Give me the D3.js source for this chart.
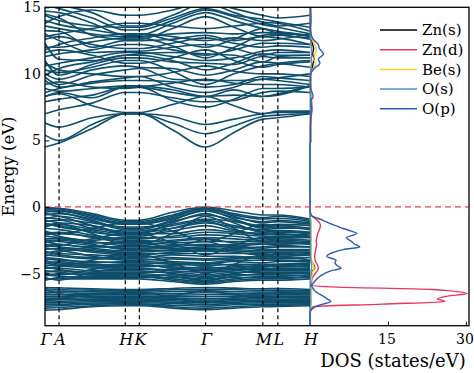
<!DOCTYPE html>
<html>
<head>
<meta charset="utf-8">
<script src="https://cdn.jsdelivr.net/npm/d3@7"></script>
<style>
  body { margin: 0; background: #fff; }
  svg { display: block; }
</style>
</head>
<body>
<div id="chart"></div>
<script>
// k-path nodes (cumulative k distance), the high symmetry points and their labels
var kNodes = [0, 0.35, 1.175, 2.0, 2.35, 3.175, 4.0, 4.71, 5.425, 5.8, 6.6];
var kTickPos = [0, 0.35, 2.0, 2.35, 4.0, 5.425, 5.8, 6.6];
var kTickLabels = ["Γ", "A", "H", "K", "Γ", "M", "L", "H"];
var energyTicks = [-5, 0, 5, 10, 15];
var dosTicks = [15, 30];

// band energies (eV) at kNodes:  Γ  A  (A-H)  H  K  (K-Γ)  Γ  (Γ-M)  M  L  H
var conductionBands = [
  [4.5, 4.8, 5.9, 7.0, 7.0, 5.8, 4.5, 5.6, 6.6, 6.7, 7.0],
  [5.4, 5.0, 6.2, 7.0, 7.0, 6.3, 5.5, 6.1, 6.8, 6.9, 7.0],
  [6.3, 6.0, 6.7, 7.0, 7.0, 6.8, 6.2, 6.6, 7.0, 7.1, 7.1],
  [7.0, 7.3, 7.8, 8.6, 8.6, 8.2, 7.9, 8.0, 8.6, 8.7, 8.6],
  [8.3, 8.5, 7.6, 7.1, 7.1, 7.7, 8.3, 7.6, 7.0, 7.2, 7.2],
  [7.9, 8.1, 8.4, 9.0, 9.0, 8.0, 7.5, 8.1, 8.9, 8.9, 9.0],
  [8.3, 8.6, 8.2, 9.0, 9.0, 8.6, 8.3, 8.4, 8.3, 8.4, 9.1],
  [8.6, 8.9, 9.3, 9.5, 9.5, 9.4, 9.0, 9.2, 9.8, 9.7, 9.5],
  [8.9, 8.7, 8.9, 9.1, 9.1, 8.8, 8.3, 8.8, 8.3, 8.5, 9.1],
  [9.2, 9.4, 9.0, 8.9, 9.0, 9.3, 9.6, 9.3, 9.2, 9.2, 9.0],
  [9.5, 9.0, 9.4, 9.7, 9.8, 9.0, 8.6, 9.0, 9.6, 9.5, 9.2],
  [9.75, 9.2, 9.9, 10.3, 10.4, 9.6, 9.5, 9.5, 9.6, 9.7, 10.0],
  [9.9, 10.4, 10.9, 11.4, 11.4, 11.0, 10.3, 10.8, 11.5, 11.4, 11.4],
  [10.0, 9.6, 10.3, 10.6, 10.5, 10.4, 9.9, 10.3, 10.9, 10.8, 10.5],
  [10.3, 10.1, 10.5, 11.0, 11.0, 10.2, 9.2, 10.0, 10.6, 10.8, 11.0],
  [10.6, 10.8, 11.2, 11.6, 11.6, 11.3, 11.0, 11.2, 11.7, 11.8, 11.6],
  [10.8, 10.3, 10.0, 9.8, 9.8, 10.1, 10.6, 10.2, 10.0, 10.0, 9.8],
  [11.0, 9.9, 10.7, 11.2, 11.2, 10.9, 10.8, 10.7, 11.3, 11.2, 11.2],
  [11.3, 11.5, 11.8, 12.2, 12.2, 11.8, 11.4, 11.8, 12.3, 12.3, 12.2],
  [11.6, 11.8, 11.4, 10.8, 10.8, 11.2, 11.8, 11.0, 10.5, 10.7, 10.9],
  [11.8, 12.2, 12.7, 13.0, 13.0, 12.8, 12.5, 12.7, 12.5, 12.6, 13.0],
  [12.3, 11.1, 11.0, 11.4, 11.5, 11.6, 11.5, 11.4, 10.9, 11.3, 11.4],
  [12.0, 12.0, 12.4, 12.7, 12.7, 12.1, 11.2, 12.0, 12.9, 13.0, 12.9],
  [12.6, 12.8, 12.2, 11.9, 11.9, 12.3, 12.7, 12.3, 12.0, 12.1, 12.0],
  [12.8, 13.0, 13.4, 13.8, 13.8, 13.6, 13.4, 13.6, 13.8, 13.6, 13.8],
  [13.0, 12.5, 11.6, 11.7, 11.7, 12.0, 12.2, 11.9, 11.4, 11.6, 11.6],
  [13.25, 13.2, 12.0, 12.5, 12.5, 12.6, 12.9, 12.5, 12.8, 12.7, 12.2],
  [13.6, 13.4, 13.0, 12.8, 12.8, 13.0, 13.1, 13.0, 13.1, 13.1, 12.8],
  [13.8, 14.3, 14.8, 14.4, 14.4, 14.8, 15.4, 14.9, 14.4, 14.2, 14.4],
  [14.0, 13.7, 13.3, 13.0, 13.0, 12.5, 12.0, 12.6, 13.4, 13.0, 12.7],
  [14.4, 14.0, 13.6, 13.5, 13.5, 14.2, 14.9, 14.4, 14.1, 13.9, 13.5],
  [14.5, 14.2, 12.9, 12.6, 12.6, 13.4, 14.3, 13.5, 12.8, 12.9, 12.6],
  [14.7, 14.6, 13.8, 12.9, 12.9, 13.8, 14.6, 14.0, 13.4, 13.2, 12.9],
  [15.2, 14.9, 14.2, 13.3, 13.3, 14.0, 14.8, 14.3, 13.7, 13.5, 13.0],
  [15.5, 15.2, 14.6, 13.6, 13.6, 14.4, 15.3, 14.6, 13.9, 13.8, 13.2]
];

var valenceBands = [
  [-0.05, -0.1, -0.5, -1.0, -1.0, -0.4, 0.0, -0.3, -0.6, -0.6, -0.9],
  [-0.1, -0.15, -0.6, -1.1, -1.1, -0.6, -0.05, -0.5, -0.8, -0.7, -1.0],
  [-0.2, -0.25, -0.7, -1.3, -1.3, -0.8, -0.1, -0.7, -1.2, -1.1, -1.3],
  [-0.3, -0.4, -1.0, -1.6, -1.6, -1.0, -0.2, -0.9, -1.5, -1.4, -1.6],
  [-0.4, -0.3, -0.8, -1.2, -1.2, -0.7, -0.15, -0.6, -0.9, -0.85, -1.1],
  [-0.5, -0.7, -1.4, -2.0, -2.0, -1.2, -0.5, -1.2, -1.9, -1.8, -2.0],
  [-0.6, -0.5, -0.9, -1.3, -1.3, -0.9, -0.3, -0.8, -1.1, -1.0, -1.2],
  [-0.8, -0.9, -1.2, -1.5, -1.5, -1.3, -0.9, -1.1, -1.4, -1.3, -1.4],
  [-0.9, -0.7, -1.1, -1.7, -1.7, -1.1, -0.6, -1.0, -1.6, -1.5, -1.7],
  [-1.0, -1.2, -2.0, -2.8, -2.8, -2.0, -0.7, -1.6, -2.6, -2.6, -2.8],
  [-1.1, -1.0, -1.6, -1.8, -1.8, -1.4, -1.0, -1.4, -1.7, -1.6, -1.6],
  [-1.2, -1.5, -1.8, -2.2, -2.2, -1.6, -1.1, -1.7, -2.1, -2.0, -2.2],
  [-1.3, -1.4, -1.9, -2.1, -2.1, -1.8, -1.4, -1.8, -2.0, -1.9, -1.9],
  [-1.4, -1.2, -1.4, -1.9, -1.9, -1.6, -1.2, -1.5, -1.8, -1.75, -1.9],
  [-1.5, -1.3, -1.7, -2.0, -2.0, -2.0, -1.7, -1.9, -2.0, -2.1, -2.0],
  [-1.6, -1.7, -2.1, -2.4, -2.4, -2.2, -1.9, -2.0, -2.2, -2.2, -2.2],
  [-1.8, -2.0, -1.6, -1.2, -1.2, -1.8, -2.6, -2.0, -1.3, -1.4, -1.2],
  [-1.9, -2.2, -2.5, -2.3, -2.3, -2.3, -2.1, -2.2, -2.4, -2.3, -2.3],
  [-2.0, -1.9, -2.3, -2.6, -2.6, -2.5, -2.3, -2.4, -2.5, -2.4, -2.5],
  [-2.1, -2.0, -2.2, -2.5, -2.5, -2.7, -2.6, -2.6, -2.6, -2.5, -2.6],
  [-2.2, -2.3, -2.6, -2.9, -2.9, -2.6, -2.4, -2.7, -2.8, -2.7, -2.8],
  [-2.4, -2.4, -2.7, -2.7, -2.7, -2.8, -2.9, -2.8, -2.7, -2.6, -2.7],
  [-2.5, -2.6, -2.9, -3.1, -3.1, -3.0, -2.8, -2.9, -3.1, -3.0, -3.0],
  [-2.6, -2.8, -3.0, -3.0, -3.0, -2.9, -2.6, -3.1, -3.0, -2.9, -3.0],
  [-2.7, -2.5, -2.8, -3.2, -3.2, -3.1, -3.0, -3.0, -3.2, -3.2, -3.2],
  [-2.8, -3.0, -3.2, -3.4, -3.4, -3.2, -3.1, -3.3, -3.4, -3.4, -3.4],
  [-2.9, -2.8, -3.1, -3.3, -3.3, -3.3, -3.2, -3.2, -3.3, -3.3, -3.3],
  [-3.0, -2.9, -2.4, -2.0, -2.0, -2.7, -3.6, -2.9, -2.3, -2.3, -2.0],
  [-3.1, -3.2, -3.3, -3.5, -3.5, -3.5, -3.5, -3.5, -3.5, -3.6, -3.5],
  [-3.2, -3.1, -3.4, -3.6, -3.6, -3.4, -3.3, -3.4, -3.6, -3.5, -3.6],
  [-3.3, -3.6, -3.8, -3.8, -3.8, -3.6, -3.7, -3.7, -3.9, -3.9, -3.8],
  [-3.4, -3.5, -3.6, -3.7, -3.7, -3.8, -3.9, -3.8, -3.7, -3.8, -3.8],
  [-3.5, -3.3, -3.7, -4.0, -4.0, -3.9, -4.0, -3.9, -3.8, -3.7, -4.0],
  [-3.6, -3.7, -3.9, -3.9, -3.9, -4.1, -4.2, -4.0, -4.0, -4.0, -4.0],
  [-3.7, -3.4, -3.0, -2.7, -2.7, -3.1, -3.3, -3.0, -2.8, -2.8, -2.7],
  [-3.8, -3.9, -4.2, -4.1, -4.1, -4.2, -4.3, -4.1, -4.2, -4.1, -4.1],
  [-3.9, -4.0, -4.1, -4.2, -4.2, -4.3, -4.4, -4.3, -4.3, -4.3, -4.2],
  [-4.0, -4.3, -4.4, -4.3, -4.3, -4.6, -4.7, -4.6, -4.4, -4.3, -4.3],
  [-4.1, -4.2, -4.3, -4.4, -4.4, -4.5, -4.6, -4.5, -4.4, -4.5, -4.4],
  [-4.2, -4.4, -4.6, -4.7, -4.7, -4.7, -4.5, -4.7, -4.7, -4.7, -4.7],
  [-4.3, -4.1, -4.4, -4.5, -4.5, -4.4, -4.2, -4.4, -4.5, -4.4, -4.5],
  [-4.4, -4.4, -4.5, -4.6, -4.6, -4.8, -4.9, -4.8, -4.6, -4.6, -4.6],
  [-4.5, -4.7, -4.9, -4.9, -4.9, -4.9, -5.1, -4.9, -4.9, -4.9, -4.9],
  [-4.6, -4.5, -4.0, -3.6, -3.6, -4.2, -5.0, -4.3, -3.6, -3.7, -3.6],
  [-4.6, -4.6, -4.8, -4.8, -4.8, -5.0, -5.2, -5.0, -4.8, -4.8, -4.8],
  [-4.8, -4.9, -5.1, -5.2, -5.2, -5.1, -5.3, -5.1, -5.1, -5.1, -5.2],
  [-4.9, -4.8, -5.0, -5.0, -5.0, -5.2, -5.4, -5.2, -5.0, -5.0, -5.0],
  [-5.0, -5.1, -4.7, -4.3, -4.3, -4.6, -4.8, -4.7, -4.5, -4.4, -4.3],
  [-5.1, -5.2, -5.3, -5.3, -5.3, -5.3, -5.5, -5.3, -5.3, -5.3, -5.3],
  [-5.2, -5.0, -5.1, -5.1, -5.1, -5.4, -5.6, -5.4, -5.2, -5.2, -5.1],
  [-5.3, -5.5, -4.9, -4.6, -4.6, -5.0, -5.6, -5.0, -4.7, -4.6, -4.6],
  [-5.4, -5.4, -5.4, -5.4, -5.4, -5.6, -5.8, -5.6, -5.5, -5.5, -5.4],
  [-5.5, -5.3, -5.2, -5.2, -5.2, -5.5, -5.7, -5.5, -5.4, -5.4, -5.2]
];

var dBands = [
  [-6.05, -6.08, -6.15, -6.2, -6.2, -6.12, -6.05, -6.1, -6.15, -6.12, -6.2],
  [-6.15, -6.2, -6.25, -6.3, -6.3, -6.22, -6.18, -6.2, -6.28, -6.25, -6.3],
  [-6.2, -6.5, -6.8, -7.0, -7.0, -6.7, -6.3, -6.6, -6.9, -6.95, -7.0],
  [-6.3, -6.32, -6.38, -6.4, -6.4, -6.35, -6.3, -6.35, -6.4, -6.38, -6.4],
  [-6.45, -6.45, -6.5, -6.5, -6.5, -6.5, -6.45, -6.48, -6.52, -6.5, -6.5],
  [-6.55, -6.6, -6.6, -6.6, -6.6, -6.62, -6.6, -6.6, -6.62, -6.6, -6.6],
  [-6.7, -6.72, -6.7, -6.7, -6.7, -6.75, -6.75, -6.72, -6.7, -6.7, -6.7],
  [-6.85, -6.85, -6.82, -6.8, -6.8, -6.85, -6.9, -6.85, -6.82, -6.8, -6.8],
  [-6.95, -6.97, -6.92, -6.9, -6.9, -6.95, -7.0, -6.95, -6.9, -6.92, -6.9],
  [-7.05, -7.08, -7.02, -7.0, -7.0, -7.05, -7.1, -7.05, -7.0, -7.02, -7.0],
  [-7.1, -6.9, -6.6, -6.4, -6.4, -6.8, -7.2, -6.8, -6.5, -6.45, -6.4],
  [-7.2, -7.18, -7.12, -7.1, -7.1, -7.15, -7.2, -7.15, -7.1, -7.12, -7.1],
  [-7.3, -7.3, -7.22, -7.2, -7.2, -7.25, -7.32, -7.25, -7.2, -7.2, -7.2],
  [-7.45, -7.42, -7.3, -7.28, -7.28, -7.38, -7.45, -7.35, -7.3, -7.3, -7.28],
  [-7.6, -7.55, -7.42, -7.35, -7.35, -7.5, -7.6, -7.5, -7.4, -7.4, -7.35],
  [-7.75, -7.7, -7.5, -7.42, -7.42, -7.6, -7.72, -7.6, -7.5, -7.48, -7.42]
];

// DOS (states/eV) on a common energy grid
var dosEnergy = [
  -8.92, -8.0, -7.7, -7.5, -7.3, -7.1, -6.9, -6.7,
  -6.5, -6.3, -6.2, -6.0, -5.9, -5.6, -5.3, -5.0,
  -4.8, -4.6, -4.4, -4.2, -4.0, -3.7, -3.4, -3.2,
  -3.0, -2.8, -2.6, -2.3, -2.0, -1.8, -1.6, -1.35,
  -1.0, -0.6, -0.2, 0.5, 4.4, 5.0, 6.0, 7.0,
  7.3, 8.0, 8.3, 9.0, 9.9, 10.4, 10.8, 11.1,
  11.5, 11.9, 12.2, 12.6, 13.0, 13.5, 14.0, 15.0
];
var dosZnS = [
  0, 0, 0, 0.05, 0.1, 0.1, 0.1, 0.1,
  0.1, 0.1, 0.1, 0.1, 0.1, 0.1, 0.2, 0.3,
  0.5, 0.9, 0.8, 0.4, 0.2, 0.1, 0.1, 0.1,
  0.1, 0.1, 0.1, 0.1, 0.1, 0.1, 0.1, 0.1,
  0.1, 0, 0, 0, 0, 0.1, 0.1, 0.1,
  0.1, 0.1, 0.1, 0.1, 0.1, 0.4, 0.6, 0.8,
  0.5, 0.7, 0.5, 0.2, 0.1, 0.05, 0.05, 0.05
];
var dosZnD = [
  0, 0, 0.1, 0.6, 14, 26, 24.5, 26.5,
  30.2, 27, 23.5, 4, 0.3, 0.3, 0.5, 1.0,
  1.4, 1.6, 1.5, 1.2, 1.0, 0.9, 1.0, 1.1,
  1.2, 1.3, 1.2, 1.3, 1.5, 1.7, 1.9, 2.0,
  1.4, 0.2, 0, 0, 0, 0.1, 0.1, 0.3,
  0.4, 0.3, 0.2, 0.1, 0.1, 0.2, 0.3, 0.2,
  0.3, 0.3, 0.2, 0.1, 0.1, 0.1, 0.1, 0.1
];
var dosBeS = [
  0, 0, 0, 0.1, 0.2, 0.2, 0.2, 0.2,
  0.2, 0.2, 0.2, 0.1, 0.1, 0.2, 0.3, 0.4,
  0.6, 0.8, 0.7, 0.4, 0.3, 0.2, 0.2, 0.2,
  0.2, 0.2, 0.2, 0.2, 0.2, 0.2, 0.2, 0.2,
  0.1, 0, 0, 0, 0, 0.1, 0.1, 0.1,
  0.2, 0.1, 0.2, 0.1, 0.1, 0.6, 1.1, 0.7,
  1.0, 1.2, 0.9, 0.4, 0.1, 0.1, 0.1, 0.1
];
var dosOS = [
  0, 0, 0, 0.1, 0.1, 0.15, 0.1, 0.1,
  0.1, 0.1, 0.1, 0.05, 0.05, 0.1, 0.1, 0.2,
  0.2, 0.3, 0.3, 0.2, 0.2, 0.1, 0.1, 0.1,
  0.1, 0.1, 0.1, 0.1, 0.1, 0.1, 0.1, 0.1,
  0.05, 0, 0, 0, 0, 0.05, 0.05, 0.1,
  0.1, 0.1, 0.1, 0.05, 0.05, 0.2, 0.3, 0.3,
  0.3, 0.3, 0.2, 0.1, 0.05, 0.05, 0.05, 0.05
];
var dosOP = [
  0, 0, 0.3, 1.0, 2.5, 4.0, 3.3, 2.5,
  1.6, 0.9, 0.7, 0.4, 0.3, 0.9, 1.6, 2.8,
  4.0, 6.0, 5.2, 4.8, 5.0, 3.2, 4.6, 6.4,
  9.6, 8.6, 8.0, 7.0, 9.0, 7.8, 6.3, 4.5,
  2.5, 0.2, 0, 0, 0, 0.1, 0.1, 0.2,
  0.3, 0.2, 0.6, 0.1, 0.1, 0.8, 1.9, 1.6,
  2.6, 1.8, 1.6, 0.6, 0.2, 0.1, 0.2, 0.1
];

var seriesNames = ["Zn(s)", "Zn(d)", "Be(s)", "O(s)", "O(p)"];
var seriesValues = [dosZnS, dosZnD, dosBeS, dosOS, dosOP];
var seriesColors = ["#000000", "#e8365d", "#f4d21b", "#4f93c4", "#2a5db0"];

var width = 474, height = 373;
var plotLeft = 45, plotRight = 469, plotTop = 7.3, plotBottom = 325.7, kEnd = 310;
var bandColor = "#0e4f6d";
var serif = "DejaVu Serif, Liberation Serif, serif";

var svg = d3.select("#chart").append("svg")
  .attr("width", width)
  .attr("height", height);

var kScale = d3.scaleLinear().domain([0, 6.6]).range([plotLeft, kEnd]);
var eScale = d3.scaleLinear().domain([-8.92, 15]).range([plotBottom, plotTop]);
var dosScale = d3.scaleLinear().domain([0, 30.6]).range([kEnd, plotRight]);

// clip areas
var defs = svg.append("defs");
defs.append("clipPath").attr("id", "bandClip")
  .append("rect")
  .attr("x", plotLeft).attr("y", plotTop)
  .attr("width", kEnd - plotLeft).attr("height", plotBottom - plotTop);
defs.append("clipPath").attr("id", "dosClip")
  .append("rect")
  .attr("x", kEnd - 2).attr("y", plotTop)
  .attr("width", plotRight - kEnd + 2).attr("height", plotBottom - plotTop);

// bands
var bandLine = d3.line()
  .x(function (d, i) { return kScale(kNodes[i]); })
  .y(function (d) { return eScale(d); })
  .curve(d3.curveMonotoneX);

var allBands = conductionBands.concat(valenceBands, dBands);
svg.append("g")
  .attr("clip-path", "url(#bandClip)")
  .selectAll("path")
  .data(allBands)
  .enter()
  .append("path")
  .attr("d", bandLine)
  .attr("fill", "none")
  .attr("stroke", bandColor)
  .attr("stroke-width", 1.6);

// dashed lines at high symmetry points
svg.append("g")
  .selectAll("line")
  .data(kTickPos.slice(1, kTickPos.length - 1))
  .enter()
  .append("line")
  .attr("x1", function (d) { return kScale(d); })
  .attr("x2", function (d) { return kScale(d); })
  .attr("y1", plotTop)
  .attr("y2", plotBottom)
  .attr("stroke", "#000")
  .attr("stroke-width", 1.2)
  .attr("stroke-dasharray", "4,3");

// DOS curves
var dosG = svg.append("g").attr("clip-path", "url(#dosClip)");
seriesValues.forEach(function (vals, s) {
  var line = d3.line()
    .x(function (d) { return dosScale(d); })
    .y(function (d, i) { return eScale(dosEnergy[i]); })
    .curve(d3.curveMonotoneY);
  dosG.append("path")
    .datum(vals)
    .attr("d", line)
    .attr("fill", "none")
    .attr("stroke", seriesColors[s])
    .attr("stroke-width", 1.4);
});

// Fermi level
svg.append("line")
  .attr("x1", plotLeft).attr("x2", plotRight)
  .attr("y1", eScale(0)).attr("y2", eScale(0))
  .attr("stroke", "#f0404f")
  .attr("stroke-width", 1.3)
  .attr("stroke-dasharray", "6,4");

// frame
svg.append("rect")
  .attr("x", plotLeft).attr("y", plotTop)
  .attr("width", plotRight - plotLeft).attr("height", plotBottom - plotTop)
  .attr("fill", "none")
  .attr("stroke", "#000")
  .attr("stroke-width", 1.3);

// y axis
var yAxis = svg.append("g")
  .attr("transform", "translate(" + plotLeft + ",0)")
  .call(d3.axisLeft(eScale).tickValues(energyTicks).tickSize(-4).tickPadding(4));
yAxis.select(".domain").remove();
yAxis.selectAll("text")
  .attr("fill", "#000")
  .style("font-family", serif)
  .style("font-size", "14px");

// DOS x axis
var xAxis = svg.append("g")
  .attr("transform", "translate(0," + plotBottom + ")")
  .call(d3.axisBottom(dosScale).tickValues(dosTicks).tickSize(-4).tickPadding(8));
xAxis.select(".domain").remove();
xAxis.selectAll("text")
  .attr("fill", "#000")
  .attr("dx", -1.5)
  .style("font-family", serif)
  .style("font-size", "14px");

// k labels
svg.append("g")
  .selectAll("text")
  .data(kTickPos)
  .enter()
  .append("text")
  .attr("x", function (d) { return kScale(d) + 1; })
  .attr("y", 345)
  .attr("text-anchor", "middle")
  .style("font-family", serif)
  .style("font-style", "italic")
  .style("font-size", "16px")
  .text(function (d, i) { return kTickLabels[i]; });

// axis titles
svg.append("text")
  .attr("transform", "translate(14," + (plotTop + plotBottom) / 2 + ") rotate(-90)")
  .attr("text-anchor", "middle")
  .style("font-family", serif)
  .style("font-size", "16.5px")
  .text("Energy (eV)");

svg.append("text")
  .attr("x", 393)
  .attr("y", 367)
  .attr("text-anchor", "middle")
  .style("font-family", serif)
  .style("font-size", "18px")
  .text("DOS (states/eV)");

// legend
var legend = svg.append("g")
  .selectAll("g")
  .data(seriesNames)
  .enter()
  .append("g")
  .attr("transform", function (d, i) { return "translate(380," + (30 + i * 19.7) + ")"; });
legend.append("line")
  .attr("x1", 0).attr("x2", 37)
  .attr("stroke", function (d, i) { return seriesColors[i]; })
  .attr("stroke-width", 1.5);
legend.append("text")
  .attr("x", 42)
  .attr("dy", "0.35em")
  .style("font-family", serif)
  .style("font-size", "15px")
  .text(function (d) { return d; });
</script>
</body>
</html>
